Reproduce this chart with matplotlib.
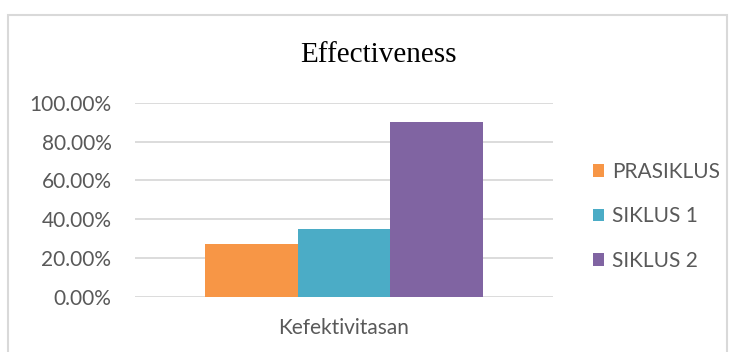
import matplotlib
matplotlib.use("Agg")
import matplotlib.pyplot as plt
from matplotlib.patches import Rectangle
from matplotlib.ticker import FuncFormatter

category = "Kefektivitasan"
series_names = ["PRASIKLUS", "SIKLUS 1", "SIKLUS 2"]
values = [0.274, 0.351, 0.90]
colors = ["#F79646", "#4BACC6", "#8064A2"]
yticks = [0.0, 0.2, 0.4, 0.6, 0.8, 1.0]

W, H = 731, 352
fig = plt.figure(figsize=(W / 100, H / 100), dpi=100)
fig.patch.set_facecolor("white")

# outer chart border
fig.patches.append(Rectangle((8 / W, -0.05), (727 - 8) / W, 1.05 - 15 / H,
                             transform=fig.transFigure, fill=False,
                             edgecolor="#D9D9D9", linewidth=1.5, clip_on=False))

ax = fig.add_axes([135 / W, (H - 297.3) / H, 418 / W, 194.7 / H])
bw = 0.667 / 3
for i, (name, v, c) in enumerate(zip(series_names, values, colors)):
    ax.bar((i - 1) * bw, v, width=bw, color=c, label=name, zorder=3)

ax.set_xlim(-0.5, 0.5)
ax.set_ylim(0, 1.0)
ax.set_yticks(yticks)
ax.yaxis.set_major_formatter(FuncFormatter(lambda v, p: f"{v*100:.2f}%"))
ax.grid(axis="y", color="#D9D9D9", linewidth=1.3, zorder=0)
for s in ax.spines.values():
    s.set_visible(False)
ax.tick_params(axis="y", length=0, pad=17, labelsize=15, labelcolor="#595959")
for t in ax.get_yticklabels():
    t.set_fontfamily("Lato")
ax.set_xticks([0])
ax.set_xticklabels([category], fontfamily="Lato", fontsize=15, color="#595959")
ax.tick_params(axis="x", length=0, pad=15)

fig.text(378 / W, 1 - 55 / H, "Effectiveness", fontfamily="Liberation Serif",
         fontsize=21, color="black", ha="center", va="center")

fig.legend(loc="center left", bbox_to_anchor=(593 / W, 1 - 216.5 / H),
           frameon=False, prop={"family": "Lato", "size": 15},
           labelcolor="#595959", handlelength=0.55, handleheight=0.55,
           handletextpad=0.35, labelspacing=1.18, borderpad=0, borderaxespad=0)

fig.savefig("out.png", dpi=100)
